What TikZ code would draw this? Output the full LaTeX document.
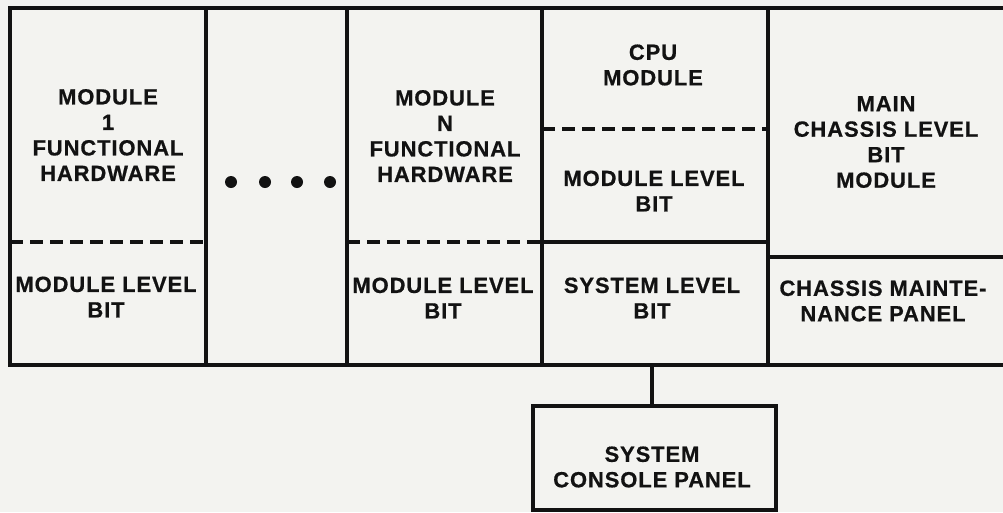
\documentclass[tikz,border=0pt]{standalone}
\usepackage{fontspec}
\setmainfont[BoldFeatures={FakeBold=0.6,LetterSpace=4}]{Liberation Sans}
\definecolor{paper}{RGB}{243,243,240}
\definecolor{ink}{RGB}{18,18,18}
\begin{document}
\begin{tikzpicture}[x=1pt,y=-1pt,
  frame/.style={draw=ink,line width=3.1pt,line cap=rect},
  sep/.style={draw=ink,line width=3.1pt,dash pattern=on 13pt off 7pt},
  lbl/.style={align=center,text=ink,font=\fontsize{22}{25.5}\selectfont\bfseries,inner sep=0pt},
  boxnode/.style={draw=ink,line width=3.1pt,minimum width=243pt,minimum height=104pt,inner sep=0pt},
  dot/.style={circle,fill=ink,minimum size=12pt,inner sep=0pt}]
\fill[paper] (0,0) rectangle (1003,512);
\useasboundingbox (0,0) rectangle (1003,512);
% outer frame and column dividers
\draw[frame] (1003,8) -- (10,8) -- (10,365) -- (1003,365);
\foreach \x in {206,347,542,768} \draw[frame] (\x,8) -- (\x,365);
% solid row dividers
\draw[frame] (542,242) -- (768,242);
\draw[frame] (768,257) -- (1003,257);
% dashed dividers
\draw[sep] (10,242) -- (206,242);
\draw[sep] (347,242) -- (542,242);
\draw[sep] (542,129) -- (768,129);
% texts
\node[lbl] (m1) at (108,135) {MODULE\\1\\FUNCTIONAL\\HARDWARE};
\node[lbl] (m1b) at (106,297) {MODULE LEVEL\\BIT};
\node[dot] (d1) at (231,182) {};
\node[dot] (d2) at (265,182) {};
\node[dot] (d3) at (297,182) {};
\node[dot] (d4) at (330,182) {};
\node[lbl] (mn) at (445,136) {MODULE\\N\\FUNCTIONAL\\HARDWARE};
\node[lbl] (mnb) at (443,298) {MODULE LEVEL\\BIT};
\node[lbl] (cpu) at (653,65) {CPU\\MODULE};
\node[lbl] (cpub) at (654,191) {MODULE LEVEL\\BIT};
\node[lbl] (sys) at (652,298) {SYSTEM LEVEL\\BIT};
\node[lbl] (main) at (886,142) {MAIN\\CHASSIS LEVEL\\BIT\\MODULE};
\node[lbl] (cmp) at (883,301) {CHASSIS MAINTE-\\NANCE PANEL};
% console panel
\coordinate (ft) at (652,365);
\node[boxnode] (console) at (654.5,458) {};
\node[lbl] (ctext) at (652,467) {SYSTEM\\CONSOLE PANEL};
\draw[frame] (ft) -- (ft |- console.north);
\end{tikzpicture}
\end{document}
